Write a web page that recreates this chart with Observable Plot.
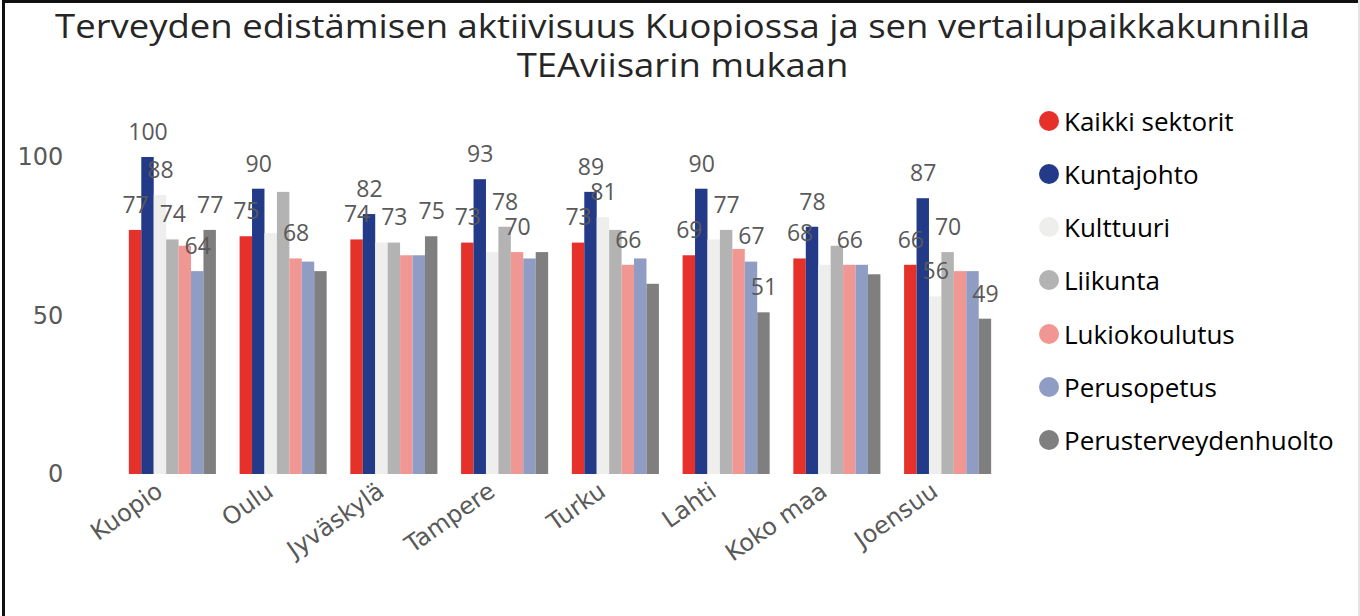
<!DOCTYPE html>
<html>
<head>
<meta charset="utf-8">
<script src="https://cdn.jsdelivr.net/npm/d3@7"></script>
<script src="https://cdn.jsdelivr.net/npm/@observablehq/plot@0.6"></script>
<style>
  html, body { margin: 0; padding: 0; background: #fff; }
  #frame { position: relative; width: 1360px; height: 616px; overflow: hidden; background: #fff; }
  #bl { position: absolute; left: 2px; top: 0; width: 3px; height: 616px; background: #111; }
  #bt { position: absolute; left: 2px; top: 0; width: 1356px; height: 3px; background: #111; }
  #br { position: absolute; left: 1358px; top: 0; width: 2px; height: 616px; background: #e4e4e4; }
  #title { position: absolute; left: 0; top: 6px; width: 1366px; text-align: center;
           font-family: "Open Sans", sans-serif; font-size: 32px; line-height: 39px; color: #262626; }
  #title span { display: inline-block; white-space: nowrap; transform-origin: center; }
  #chart { position: absolute; left: 0; top: 100px; }
  #legend { position: absolute; left: 1039px; top: 94px; font-family: "Open Sans", sans-serif;
            font-size: 26px; color: #000; }
  .item { position: absolute; left: 0; height: 53px; white-space: nowrap; display: flex; align-items: center; }
  .dot { width: 20px; height: 20px; border-radius: 50%; margin-right: 5px; flex: none; }
</style>
</head>
<body>
<div id="frame">
  <div id="bl"></div><div id="bt"></div><div id="br"></div>
  <div id="title"><span id="t1">Terveyden edistämisen aktiivisuus Kuopiossa ja sen vertailupaikkakunnilla</span><br><span id="t2">TEAviisarin mukaan</span></div>
  <div id="chart"></div>
  <div id="legend"></div>
</div>
<script>
const cities = ["Kuopio", "Oulu", "Jyväskylä", "Tampere", "Turku", "Lahti", "Koko maa", "Joensuu"];
const seriesNames = ["Kaikki sektorit", "Kuntajohto", "Kulttuuri", "Liikunta", "Lukiokoulutus", "Perusopetus", "Perusterveydenhuolto"];
const seriesColors = ["#E6312B", "#223A88", "#EEEEEC", "#B3B3B3", "#F19793", "#8F9DC5", "#7F7F7F"];

const kaikkiSektorit      = [77, 75, 74, 73, 73, 69, 68, 66];
const kuntajohto          = [100, 90, 82, 93, 89, 90, 78, 87];
const kulttuuri           = [88, 76, 73, 70, 81, 74, 66, 56];
const liikunta            = [74, 89, 73, 78, 77, 77, 72, 70];
const lukiokoulutus       = [72, 68, 69, 70, 66, 71, 66, 64];
const perusopetus         = [64, 67, 69, 68, 68, 67, 66, 64];
const perusterveydenhuolto = [77, 64, 75, 70, 60, 51, 63, 49];

// data labels that are visible in the original chart (city, series)
const shownLabels = [
  ["Kuopio", "Kaikki sektorit"], ["Kuopio", "Kuntajohto"], ["Kuopio", "Kulttuuri"], ["Kuopio", "Liikunta"], ["Kuopio", "Perusopetus"], ["Kuopio", "Perusterveydenhuolto"],
  ["Oulu", "Kaikki sektorit"], ["Oulu", "Kuntajohto"], ["Oulu", "Lukiokoulutus"],
  ["Jyväskylä", "Kaikki sektorit"], ["Jyväskylä", "Kuntajohto"], ["Jyväskylä", "Liikunta"], ["Jyväskylä", "Perusterveydenhuolto"],
  ["Tampere", "Kaikki sektorit"], ["Tampere", "Kuntajohto"], ["Tampere", "Liikunta"], ["Tampere", "Lukiokoulutus"],
  ["Turku", "Kaikki sektorit"], ["Turku", "Kuntajohto"], ["Turku", "Kulttuuri"], ["Turku", "Lukiokoulutus"],
  ["Lahti", "Kaikki sektorit"], ["Lahti", "Kuntajohto"], ["Lahti", "Liikunta"], ["Lahti", "Perusopetus"], ["Lahti", "Perusterveydenhuolto"],
  ["Koko maa", "Kaikki sektorit"], ["Koko maa", "Kuntajohto"], ["Koko maa", "Lukiokoulutus"],
  ["Joensuu", "Kaikki sektorit"], ["Joensuu", "Kuntajohto"], ["Joensuu", "Kulttuuri"], ["Joensuu", "Liikunta"], ["Joensuu", "Perusterveydenhuolto"]
];
const yTicks = [0, 50, 100];

const seriesValues = [kaikkiSektorit, kuntajohto, kulttuuri, liikunta, lukiokoulutus, perusopetus, perusterveydenhuolto];
const shownSet = new Set(shownLabels.map(([c, s]) => c + "|" + s));
const data = [];
cities.forEach((city, i) => {
  seriesNames.forEach((s, j) => {
    data.push({city, series: s, value: seriesValues[j][i], shown: shownSet.has(city + "|" + s)});
  });
});

const chart = Plot.plot({
  width: 1020,
  height: 514,
  marginLeft: 117,
  marginRight: 17,
  marginTop: 57,
  marginBottom: 140,
  style: {fontFamily: "DejaVu Sans, sans-serif", fontSize: "24px", color: "#595959", background: "transparent"},
  fx: {domain: cities, paddingInner: 0.214, paddingOuter: 0.107, round: false, label: null},
  x: {domain: seriesNames, padding: 0, round: false, axis: null},
  y: {domain: [0, 100], label: null},
  color: {domain: seriesNames, range: seriesColors},
  marks: [
    Plot.barY(data, {fx: "city", x: "series", y: "value", fill: "series"}),
    Plot.text(data.filter(d => d.shown), {
      fx: "city", x: "series", y: "value", text: d => String(d.value),
      dy: -25, fill: "#595959", fontSize: 23, fontFamily: "Open Sans, sans-serif"
    }),
    Plot.axisY({ticks: yTicks, tickSize: 0, tickPadding: 66, fontSize: 24, fill: "#595959", label: null, fontFamily: "DejaVu Sans, sans-serif"}),
    Plot.axisFx({anchor: "bottom", tickSize: 0, tickPadding: 14, dx: -13, tickRotate: -35, fontSize: 24, fill: "#595959", label: null, fontFamily: "DejaVu Sans, sans-serif"})
  ]
});
document.getElementById("chart").appendChild(chart);

// legend
const legend = document.getElementById("legend");
seriesNames.forEach((s, i) => {
  const item = document.createElement("div");
  item.className = "item";
  item.style.top = (i * 53.3) + "px";
  const dot = document.createElement("span");
  dot.className = "dot";
  dot.style.background = seriesColors[i];
  const label = document.createElement("span");
  label.textContent = s;
  item.appendChild(dot);
  item.appendChild(label);
  legend.appendChild(item);
});

// stretch title lines to the width seen in the reference
const t1 = document.getElementById("t1"), t2 = document.getElementById("t2");
const w1 = t1.getBoundingClientRect().width;
const k = 1255 / w1;
t1.style.transform = `scaleX(${k})`;
t2.style.transform = `scaleX(${k})`;
</script>
</body>
</html>
